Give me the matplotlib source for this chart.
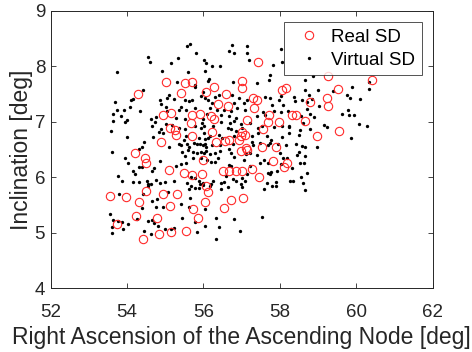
import matplotlib
matplotlib.use("Agg")
import matplotlib.pyplot as plt

plt.rcParams['font.family'] = ['Liberation Sans', 'DejaVu Sans']

# Real SD (red circles)
real_x = [54.88, 54.22, 54.46, 54.50, 55.09, 55.48, 55.69, 55.97, 56.07, 56.11,
          54.50, 54.93, 55.31, 53.54, 53.96, 54.30, 56.03, 55.13, 55.73, 54.24,
          55.85, 54.77, 53.73, 55.53, 55.16, 54.84, 54.42,
          55.03, 55.51, 55.71, 54.29, 55.41, 56.07, 54.95, 55.16, 55.69, 55.90,
          55.68, 55.13, 55.25, 55.27, 55.70,
          57.43, 57.00, 57.00, 56.28, 58.05, 58.15, 56.58, 57.29, 57.41, 56.38,
          56.63, 57.31, 56.19, 56.28, 57.71, 58.32, 58.43, 57.13, 57.68, 57.97,
          58.67, 56.23, 57.56, 57.01, 56.98, 57.08, 56.56, 56.66, 56.93, 56.34,
          58.98, 57.12, 57.52, 57.90,
          60.40, 59.26, 59.53, 58.80, 59.23, 59.26, 59.54,
          56.99, 57.14, 55.99, 57.83, 58.18, 58.12, 56.51, 56.66, 56.84, 57.00,
          57.26, 57.46, 56.73, 57.04, 56.54]
real_y = [6.63, 6.43, 6.34, 6.26, 6.13, 6.07, 6.04, 6.06, 5.84, 5.73,
          5.75, 5.70, 5.69, 5.67, 5.65, 5.55, 5.55, 5.49, 5.42, 5.30,
          5.27, 5.26, 5.15, 5.04, 5.01, 4.97, 4.88,
          7.72, 7.70, 7.71, 7.50, 7.51, 7.54, 7.12, 7.15, 7.13, 7.14,
          6.98, 6.89, 6.85, 6.77, 6.75,
          8.08, 7.74, 7.61, 7.62, 7.58, 7.61, 7.50, 7.43, 7.39, 7.32,
          7.28, 7.24, 7.10, 7.05, 7.12, 7.13, 7.12, 7.04, 6.99, 6.99,
          7.01, 6.81, 6.87, 6.82, 6.75, 6.76, 6.65, 6.67, 6.67, 6.63,
          6.75, 6.52, 6.54, 6.54,
          7.76, 7.83, 7.59, 7.36, 7.42, 7.29, 6.84,
          6.47, 6.49, 6.31, 6.29, 6.25, 6.18, 6.12, 6.12, 6.11, 6.12,
          6.14, 6.01, 5.59, 5.62, 5.44]

# Virtual SD (black dots)
virt_x = [55.65, 55.57, 55.81, 54.55, 54.59, 55.33, 55.15, 56.01, 56.07, 53.74,
          54.91, 55.59, 56.05, 55.30, 55.77, 55.79, 54.41, 56.00, 55.09, 54.16,
          54.10, 54.85, 55.04, 55.23, 55.52, 55.62, 55.71, 55.94, 56.05, 53.69,
          54.90, 54.07, 55.02, 55.41, 53.73, 53.93, 54.35, 55.04, 55.37, 55.54,
          55.77, 53.84, 53.64, 55.27, 54.76, 54.63, 54.00, 53.94, 53.63, 55.51,
          55.03, 55.18, 54.73, 54.66, 55.36, 55.52, 55.78, 55.95, 55.94, 54.90,
          53.57, 54.83, 54.93, 54.67, 55.55, 55.49, 54.00, 55.87, 56.05, 56.11,
          55.36, 55.42, 55.74, 55.82, 55.90, 54.38, 56.07,
          56.75, 57.15, 56.66, 56.81, 57.15, 57.18, 56.23, 56.43, 57.83, 58.02,
          58.06, 57.75, 57.72, 56.77, 56.14, 56.12, 57.40, 56.31, 56.40, 56.74,
          56.93, 57.15, 56.13, 56.22, 56.81, 57.07, 57.62, 57.75, 58.03, 57.98,
          57.80, 58.09, 58.36, 58.40, 58.66, 58.83, 58.72, 58.99, 56.18, 56.36,
          56.55, 56.71, 56.88, 57.08, 56.08, 56.47, 56.66, 56.84, 57.39, 57.55,
          57.61, 57.85, 58.03, 58.21, 58.78, 58.89, 56.00, 56.47, 56.69, 56.79,
          56.97, 57.21, 57.53, 57.85, 58.05, 58.23, 58.25, 58.52, 56.01, 56.26,
          56.65, 56.73, 56.84, 57.00, 57.42, 56.02, 56.18, 56.40, 56.48, 56.79,
          57.28, 57.42, 57.67, 57.77, 58.05, 58.23, 58.51, 58.78, 56.21, 56.42,
          56.77, 57.26, 57.29, 57.68, 57.74, 58.15, 58.57, 58.65, 58.96,
          58.65, 58.86, 59.38, 59.88, 60.32, 60.33, 58.75, 58.59, 59.76, 59.84,
          60.11, 58.70, 59.02, 59.79, 59.62, 59.81, 59.93, 58.55, 58.60, 59.15,
          59.23, 60.07, 60.27, 59.86,
          54.45, 53.60, 54.32, 55.09, 55.58, 55.63, 56.03, 55.43, 55.51, 55.59,
          55.73, 55.83, 55.93, 56.02, 53.95, 54.02, 54.31, 54.39, 54.16, 54.85,
          54.64, 54.70, 55.42, 55.55, 55.72, 55.93, 55.29, 54.22, 53.76, 53.87,
          54.16, 54.32, 54.53, 54.56, 54.63, 54.56, 54.75, 54.86, 55.24, 54.99,
          55.58, 55.68, 55.68, 55.79, 55.87, 55.92, 55.98, 55.61, 55.77, 55.88,
          55.08, 53.80, 54.41, 54.64, 54.79, 54.93, 54.76, 54.38, 55.64, 55.40,
          55.62, 53.56, 53.63, 53.75, 53.86, 54.27, 54.56, 54.66, 54.70, 54.81,
          53.60, 53.90, 54.02, 55.43, 55.77, 55.00, 55.16, 55.23, 55.82, 54.63,
          54.45, 53.60,
          56.00, 56.42, 56.07, 56.18, 56.31, 56.68, 56.73, 56.81, 57.12, 57.23,
          57.41, 57.49, 57.94, 58.41, 58.49, 58.45, 58.66, 58.19, 57.99, 58.08,
          57.58, 57.70, 57.49, 58.02, 58.52, 58.32, 57.92, 57.78, 57.73, 57.68,
          58.70, 58.56, 58.26, 58.34, 57.90, 57.66, 57.80, 57.89, 58.60, 57.59,
          58.67, 56.09, 56.20, 56.29, 56.38, 56.66, 56.73, 57.05, 57.21, 57.15,
          57.02, 57.08, 56.60, 56.77, 56.84, 56.24, 56.19, 56.47, 56.53, 56.64,
          56.99, 57.02, 56.00, 56.16, 56.47, 56.05, 56.33, 56.81, 57.54, 56.03,
          56.40, 56.96, 56.33, 58.62]
virt_y = [8.40, 8.36, 8.24, 8.17, 8.07, 8.15, 8.05, 8.12, 8.05, 7.90,
          7.91, 7.89, 7.91, 7.71, 7.66, 7.62, 7.57, 7.53, 7.49, 7.41,
          7.40, 7.39, 7.42, 7.41, 7.39, 7.37, 7.40, 7.47, 7.42, 7.36,
          7.32, 7.27, 7.26, 7.27, 7.22, 7.21, 7.20, 7.19, 7.22, 7.21,
          7.25, 7.11, 7.14, 7.06, 7.08, 7.05, 7.04, 6.99, 7.02, 7.05,
          6.96, 6.95, 6.99, 6.93, 6.89, 6.87, 6.92, 6.97, 6.89, 6.87,
          6.83, 6.81, 6.80, 6.73, 6.74, 6.68, 6.72, 6.70, 6.69, 6.70,
          6.60, 6.58, 6.61, 6.60, 6.59, 6.54, 6.54,
          8.38, 8.37, 8.27, 8.24, 8.24, 8.12, 8.01, 8.00, 8.03, 8.31,
          8.07, 7.85, 7.76, 7.72, 7.77, 7.74, 7.70, 7.45, 7.49, 7.49,
          7.43, 7.39, 7.39, 7.34, 7.34, 7.33, 7.44, 7.42, 7.46, 7.39,
          7.30, 7.31, 7.45, 7.38, 7.57, 7.41, 7.36, 7.57, 7.24, 7.22,
          7.22, 7.20, 7.25, 7.21, 7.14, 7.13, 7.11, 7.06, 7.11, 7.17,
          7.12, 7.20, 7.17, 7.19, 7.14, 7.09, 7.05, 6.99, 6.97, 7.01,
          6.96, 6.97, 6.93, 6.91, 6.93, 6.92, 6.90, 6.86, 6.93, 6.92,
          6.89, 6.87, 6.84, 6.89, 6.89, 6.80, 6.74, 6.76, 6.71, 6.75,
          6.74, 6.79, 6.75, 6.68, 6.73, 6.79, 6.77, 6.87, 6.58, 6.58,
          6.60, 6.63, 6.58, 6.58, 6.61, 6.58, 6.56, 6.54, 6.55,
          7.76, 7.82, 7.56, 7.63, 7.71, 7.59, 7.49, 7.40, 7.48, 7.43,
          7.41, 7.23, 7.28, 7.22, 7.14, 7.12, 7.13, 7.11, 6.97, 6.94,
          6.90, 6.96, 6.93, 6.70,
          6.63, 6.46, 6.50, 6.54, 6.60, 6.55, 6.60, 6.45, 6.38, 6.49,
          6.45, 6.44, 6.45, 6.43, 6.34, 6.25, 6.19, 6.19, 6.12, 6.30,
          6.11, 6.17, 6.23, 6.25, 6.34, 6.35, 6.20, 6.05, 6.03, 5.93,
          5.91, 5.91, 5.93, 5.88, 5.87, 5.84, 5.95, 5.89, 5.93, 5.91,
          5.89, 5.85, 6.00, 5.98, 5.93, 5.88, 5.86, 5.78, 5.80, 5.80,
          5.74, 5.70, 5.69, 5.58, 5.60, 5.47, 5.46, 5.44, 5.62, 5.51,
          5.46, 5.33, 5.23, 5.22, 5.19, 5.24, 5.22, 5.23, 5.17, 5.13,
          5.11, 5.07, 5.15, 5.26, 5.19, 5.06, 5.07, 5.08, 5.01, 4.98,
          5.04, 5.00,
          6.58, 6.47, 6.47, 6.41, 6.43, 6.51, 6.43, 6.37, 6.41, 6.43,
          6.40, 6.61, 6.60, 6.59, 6.46, 6.40, 6.38, 6.34, 6.43, 6.34,
          6.31, 6.26, 6.25, 6.23, 6.26, 6.16, 6.11, 6.09, 6.05, 6.07,
          6.07, 6.01, 5.93, 5.93, 5.91, 5.90, 5.84, 5.84, 5.90, 5.79,
          5.77, 6.31, 6.28, 6.28, 6.34, 6.22, 6.20, 6.31, 6.20, 6.05,
          5.99, 5.93, 6.02, 5.96, 5.93, 5.94, 5.88, 5.90, 5.91, 5.83,
          5.87, 5.82, 5.90, 5.84, 5.78, 5.43, 5.26, 5.25, 5.29, 5.12,
          5.11, 5.03, 4.89, 6.25]

x_ticks = [52, 54, 56, 58, 60, 62]
y_ticks = [4, 5, 6, 7, 8, 9]

axis_col = (0.15, 0.15, 0.15)

fig = plt.figure(figsize=(4.72, 3.52), dpi=100)
ax = fig.add_axes([0.1074, 0.181, 0.8093, 0.7886])

ax.plot(real_x, real_y, linestyle='none', marker='o', markersize=6,
        markerfacecolor='none', markeredgecolor='#ff2a2a', markeredgewidth=0.8,
        label='Real SD', zorder=3)
ax.plot(virt_x, virt_y, linestyle='none', marker='o', markersize=2.4,
        markerfacecolor='black', markeredgecolor='black', markeredgewidth=0,
        label='Virtual SD', zorder=2)

ax.set_xlim(52, 62)
ax.set_ylim(4, 9)
ax.set_xticks(x_ticks)
ax.set_yticks(y_ticks)
ax.tick_params(direction='in', length=3.5, width=0.6, colors=axis_col,
               labelsize=13.5, top=True, right=True)
ax.tick_params(axis='x', pad=11)
ax.tick_params(axis='y', pad=4)
for sp in ax.spines.values():
    sp.set_color(axis_col)
    sp.set_linewidth(0.7)

ax.set_xlabel('Right Ascension of the Ascending Node [deg]', fontsize=16.5,
              color=axis_col, labelpad=4)
ax.set_ylabel('Inclination [deg]', fontsize=16.5, color=axis_col, labelpad=1)

leg = ax.legend(loc='upper right', bbox_to_anchor=(0.971, 0.958),
                borderaxespad=0, fontsize=13.5, frameon=True, fancybox=False,
                edgecolor=axis_col, handlelength=2.0, handletextpad=0.15,
                borderpad=0.35, labelspacing=0.3, markerscale=1.0)
leg.get_frame().set_linewidth(0.7)
for t in leg.get_texts():
    t.set_color('black')

fig.savefig('out.png', dpi=100)
